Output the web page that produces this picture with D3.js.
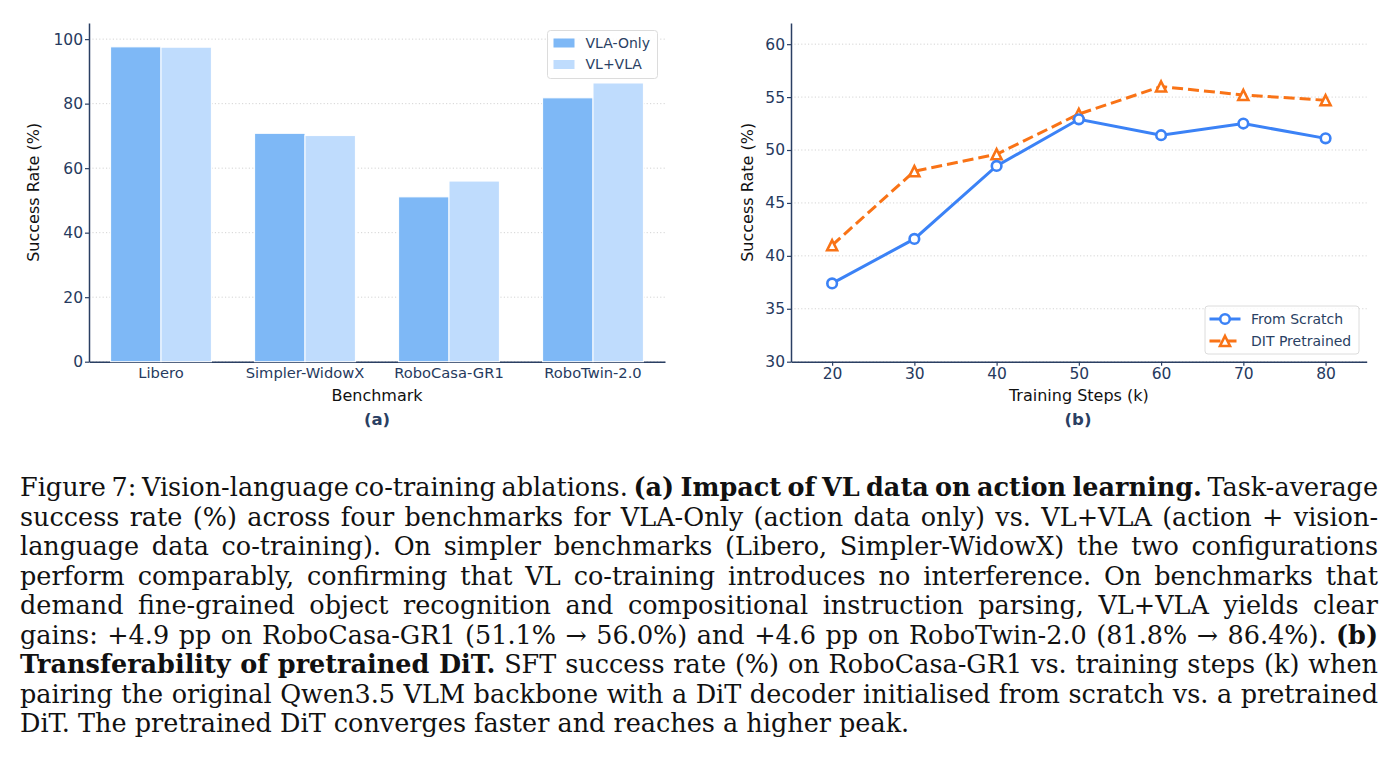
<!DOCTYPE html>
<html>
<head>
<meta charset="utf-8">
<script src="https://cdn.jsdelivr.net/npm/d3@7"></script>
<style>
  body { margin: 0; background: #fff; }
  svg { display: block; }
  .tick text { font-family: "DejaVu Sans", sans-serif; fill: #263a5e; }
  .caption { font-family: "DejaVu Serif", "Liberation Serif", serif; fill: #111; }
</style>
</head>
<body>
<div class="chart-container"></div>
<script>
/********** the Data **********/
const benchmarks = ["Libero", "Simpler-WidowX", "RoboCasa-GR1", "RoboTwin-2.0"];
const barSeries = ["VLA-Only", "VL+VLA"];
const vlaOnly = [97.6, 70.8, 51.1, 81.8];
const vlVla = [97.5, 70.1, 56.0, 86.4];
const barTicks = [0, 20, 40, 60, 80, 100];

const steps = [20, 30, 40, 50, 60, 70, 80];
const lineSeries = ["From Scratch", "DIT Pretrained"];
const fromScratch = [37.4, 41.6, 48.5, 52.9, 51.4, 52.5, 51.1];
const ditPretrained = [41.0, 48.0, 49.6, 53.4, 56.0, 55.2, 54.7];
const lineTicksY = [30, 35, 40, 45, 50, 55, 60];

// caption lines, each line is a list of [text, bold]
const captionLines = [
  [["Figure 7: Vision-language co-training ablations. ", false], ["(a) Impact of VL data on action learning.", true], [" Task-average", false]],
  [["success rate (%) across four benchmarks for VLA-Only (action data only) vs. VL+VLA (action + vision-", false]],
  [["language data co-training). On simpler benchmarks (Libero, Simpler-WidowX) the two configurations", false]],
  [["perform comparably, confirming that VL co-training introduces no interference. On benchmarks that", false]],
  [["demand fine-grained object recognition and compositional instruction parsing, VL+VLA yields clear", false]],
  [["gains: +4.9 pp on RoboCasa-GR1 (51.1% \u2192 56.0%) and +4.6 pp on RoboTwin-2.0 (81.8% \u2192 86.4%). ", false], ["(b)", true]],
  [["Transferability of pretrained DiT.", true], [" SFT success rate (%) on RoboCasa-GR1 vs. training steps (k) when", false]],
  [["pairing the original Qwen3.5 VLM backbone with a DiT decoder initialised from scratch vs. a pretrained", false]],
  [["DiT. The pretrained DiT converges faster and reaches a higher peak.", false]]
];

/***** colors *****/
const barColors = ["#7eb8f6", "#bfdcfd"];
const lineColors = ["#3b82f6", "#f97316"];
const navy = "#2a3f63";
const gridColor = "#d4d4d4";

let svg = d3.select(".chart-container")
  .append("svg")
    .attr("width", 1398)
    .attr("height", 782);

/********** helper: style an axis group **********/
function styleAxis(g, size) {
  g.select(".domain").attr("stroke", navy).attr("stroke-width", 1.5);
  g.selectAll(".tick line").attr("stroke", navy).attr("stroke-width", 1.2);
  g.selectAll(".tick text").style("font-size", size + "px");
}

/********** chart (a): grouped bars **********/
function drawBars() {
  let left = 89, right = 665, top = 23, bottom = 361.7;

  let xScale = d3.scaleBand()
    .domain(benchmarks)
    .range([left, right])
    .paddingInner(0.3)
    .paddingOuter(0.15);

  let xSub = d3.scaleBand()
    .domain(barSeries)
    .range([0, xScale.bandwidth()]);

  let yScale = d3.scaleLinear()
    .domain([0, 105])
    .range([bottom, top]);

  let g = svg.append("g").attr("class", "bar-chart");

  // dotted grid
  g.selectAll(".grid")
    .data(barTicks)
    .enter().append("line")
      .attr("x1", left).attr("x2", right)
      .attr("y1", d => yScale(d)).attr("y2", d => yScale(d))
      .attr("stroke", gridColor)
      .attr("stroke-dasharray", "1.2,2.2");

  // axes
  g.append("g")
    .attr("transform", `translate(0, ${bottom})`)
    .call(d3.axisBottom(xScale).tickSize(0).tickPadding(5.5))
    .call(a => styleAxis(a, 14.7));

  g.append("g")
    .attr("transform", `translate(${left}, 0)`)
    .call(d3.axisLeft(yScale).tickValues(barTicks).tickSize(4).tickSizeOuter(0).tickPadding(2))
    .call(a => styleAxis(a, 15.5));

  // bars, one series at a time
  let seriesVals = [vlaOnly, vlVla];
  barSeries.forEach((name, si) => {
    g.selectAll(".bar-" + si)
      .data(benchmarks)
      .enter().append("rect")
        .attr("x", d => xScale(d) + xSub(name))
        .attr("width", xSub.bandwidth())
        .attr("y", (d, i) => yScale(seriesVals[si][i]))
        .attr("height", (d, i) => bottom - yScale(seriesVals[si][i]))
        .attr("fill", barColors[si])
        .attr("stroke", "#fff")
        .attr("stroke-width", 1);
  });

  // labels
  g.append("text")
    .attr("x", (left + right) / 2).attr("y", 401)
    .attr("text-anchor", "middle")
    .style("font", "16px 'DejaVu Sans'").attr("fill", "#111")
    .text("Benchmark");

  g.append("text")
    .attr("transform", `translate(39, ${(top + bottom) / 2}) rotate(-90)`)
    .attr("text-anchor", "middle")
    .style("font", "16px 'DejaVu Sans'").attr("fill", "#111")
    .text("Success Rate (%)");

  g.append("text")
    .attr("x", 377).attr("y", 425)
    .attr("text-anchor", "middle")
    .style("font", "bold 16.5px 'DejaVu Sans'").attr("fill", navy)
    .text("(a)");

  // legend
  let lg = g.append("g").attr("transform", "translate(547.5, 30.5)");
  lg.append("rect")
    .attr("width", 110).attr("height", 48).attr("rx", 3)
    .attr("fill", "#fff").attr("fill-opacity", 0.85)
    .attr("stroke", "#dcdcdc");
  barSeries.forEach((name, i) => {
    lg.append("rect")
      .attr("x", 6).attr("y", 8 + i * 21.5)
      .attr("width", 21).attr("height", 9)
      .attr("fill", barColors[i]);
    lg.append("text")
      .attr("x", 38).attr("y", 12.5 + i * 21.5).attr("dy", "0.35em")
      .style("font", "14px 'DejaVu Sans'").attr("fill", navy)
      .text(name);
  });
}

/********** chart (b): lines with markers **********/
function trianglePath(s) {
  return `M0,${-s}L${s},${s}L${-s},${s}Z`;
}

function drawLines() {
  let left = 791, right = 1366.7, top = 23, bottom = 361.7;

  let xScale = d3.scaleLinear().domain([15, 85]).range([left, right]);
  let yScale = d3.scaleLinear().domain([30, 62]).range([bottom, top]);

  let g = svg.append("g").attr("class", "line-chart");

  g.selectAll(".grid")
    .data(lineTicksY)
    .enter().append("line")
      .attr("x1", left).attr("x2", right)
      .attr("y1", d => yScale(d)).attr("y2", d => yScale(d))
      .attr("stroke", gridColor)
      .attr("stroke-dasharray", "1.2,2.2");

  g.append("g")
    .attr("transform", `translate(0, ${bottom})`)
    .call(d3.axisBottom(xScale).tickValues(steps).tickSize(4).tickSizeOuter(0).tickPadding(2.7))
    .call(a => styleAxis(a, 15.5));

  g.append("g")
    .attr("transform", `translate(${left}, 0)`)
    .call(d3.axisLeft(yScale).tickValues(lineTicksY).tickSize(4).tickSizeOuter(0).tickPadding(2))
    .call(a => styleAxis(a, 15.5));

  let line = d3.line()
    .x((d, i) => xScale(steps[i]))
    .y(d => yScale(d));

  // pretrained first, scratch drawn on top
  g.append("path")
    .datum(ditPretrained)
    .attr("d", line)
    .attr("fill", "none")
    .attr("stroke", lineColors[1])
    .attr("stroke-width", 3)
    .attr("stroke-dasharray", "11,5");

  g.selectAll(".tri")
    .data(ditPretrained)
    .enter().append("path")
      .attr("transform", (d, i) => `translate(${xScale(steps[i])}, ${yScale(d)})`)
      .attr("d", trianglePath(5))
      .attr("fill", "#fff")
      .attr("stroke", lineColors[1])
      .attr("stroke-width", 2.6);

  g.append("path")
    .datum(fromScratch)
    .attr("d", line)
    .attr("fill", "none")
    .attr("stroke", lineColors[0])
    .attr("stroke-width", 3);

  g.selectAll(".dot")
    .data(fromScratch)
    .enter().append("circle")
      .attr("cx", (d, i) => xScale(steps[i]))
      .attr("cy", d => yScale(d))
      .attr("r", 4.8)
      .attr("fill", "#fff")
      .attr("stroke", lineColors[0])
      .attr("stroke-width", 2.6);

  // labels
  g.append("text")
    .attr("x", (left + right) / 2).attr("y", 401)
    .attr("text-anchor", "middle")
    .style("font", "16px 'DejaVu Sans'").attr("fill", "#111")
    .text("Training Steps (k)");

  g.append("text")
    .attr("transform", `translate(752.5, ${(top + bottom) / 2}) rotate(-90)`)
    .attr("text-anchor", "middle")
    .style("font", "16px 'DejaVu Sans'").attr("fill", "#111")
    .text("Success Rate (%)");

  g.append("text")
    .attr("x", 1078).attr("y", 425)
    .attr("text-anchor", "middle")
    .style("font", "bold 16.5px 'DejaVu Sans'").attr("fill", navy)
    .text("(b)");

  // legend
  let lg = g.append("g").attr("transform", "translate(1205, 306)");
  lg.append("rect")
    .attr("width", 154).attr("height", 48).attr("rx", 3)
    .attr("fill", "#fff").attr("fill-opacity", 0.85)
    .attr("stroke", "#dcdcdc");
  lineSeries.forEach((name, i) => {
    let cy = 13 + i * 22;
    lg.append("line")
      .attr("x1", 4.5).attr("x2", 35.5)
      .attr("y1", cy).attr("y2", cy)
      .attr("stroke", lineColors[i])
      .attr("stroke-width", 3)
      .attr("stroke-dasharray", i === 1 ? "11,5" : null);
    if (i === 0) {
      lg.append("circle")
        .attr("cx", 20).attr("cy", cy).attr("r", 4.8)
        .attr("fill", "#fff").attr("stroke", lineColors[0]).attr("stroke-width", 2.6);
    } else {
      lg.append("path")
        .attr("transform", `translate(20, ${cy})`)
        .attr("d", trianglePath(5))
        .attr("fill", "#fff").attr("stroke", lineColors[1]).attr("stroke-width", 2.6);
    }
    lg.append("text")
      .attr("x", 46).attr("y", cy).attr("dy", "0.35em")
      .style("font", "14px 'DejaVu Sans'").attr("fill", navy)
      .text(name);
  });
}

/********** caption, justified line by line **********/
function drawCaption() {
  let capLeft = 20, capRight = 1378, firstBase = 496, lineGap = 29.5;

  captionLines.forEach((parts, li) => {
    let t = svg.append("text")
      .attr("class", "caption")
      .attr("x", capLeft)
      .attr("y", firstBase + li * lineGap)
      .style("font-size", "25.5px");

    parts.forEach(p => {
      t.append("tspan")
        .attr("font-weight", p[1] ? "bold" : null)
        .text(p[0]);
    });

    // stretch (or squeeze) word gaps to fill the line, except the last line
    if (li < captionLines.length - 1) {
      let natural = t.node().getComputedTextLength();
      let text = parts.map(p => p[0]).join("");
      let gaps = (text.match(/ /g) || []).length;
      let extra = (capRight - capLeft - natural) / gaps;
      if (extra > -4) {
        t.style("word-spacing", extra + "px");
      } else {
        t.attr("textLength", capRight - capLeft).attr("lengthAdjust", "spacingAndGlyphs");
      }
    }
  });
}

drawBars();
drawLines();
drawCaption();
</script>
</body>
</html>
